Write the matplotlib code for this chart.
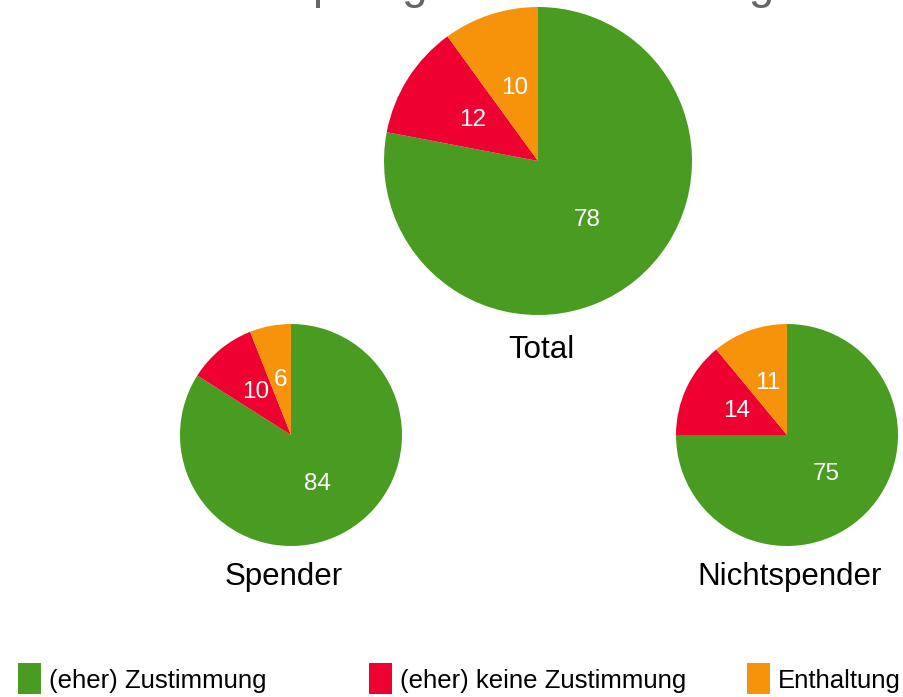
import matplotlib
matplotlib.use("Agg")
import matplotlib.pyplot as plt
from matplotlib.patches import Rectangle

plt.rcParams['font.family'] = ['Liberation Sans', 'DejaVu Sans']

# data
categories = ['(eher) Zustimmung', '(eher) keine Zustimmung', 'Enthaltung']
colors = ['#4a9b21', '#ee0030', '#f7930a']
groups = ['Total', 'Spender', 'Nichtspender']
values_total = [78, 12, 10]
values_spender = [84, 10, 6]
values_nichtspender = [75, 14, 11]
title = 'Impfung der Bevölkerung'

W, H = 904, 697
fig = plt.figure(figsize=(W / 100, H / 100), dpi=100)


def pie_at(vals, cx, cy, r, name, label_x, label_y):
    # pixel coords (top-left origin) -> figure fraction
    ax = fig.add_axes([(cx - r) / W, (H - cy - r) / H, 2 * r / W, 2 * r / H])
    ax.pie(vals, colors=colors, startangle=90, counterclock=False,
           labels=[str(v) for v in vals], labeldistance=0.5,
           textprops=dict(color='white', fontsize=17.5, ha='center', va='center'),
           wedgeprops=dict(linewidth=0))
    ax.set_xlim(-1, 1)
    ax.set_ylim(-1, 1)
    ax.set_aspect('equal')
    ax.axis('off')
    fig.text(label_x / W, 1 - label_y / H, name, ha='center', va='center',
             fontsize=22.5, color='black')


pie_at(values_total, 538, 161, 154, groups[0], 541, 350)
pie_at(values_spender, 291, 435, 111, groups[1], 284, 577)
pie_at(values_nichtspender, 787, 435, 111, groups[2], 790, 577)

# title, mostly cut off at the top like in the reference
fig.text(262 / W, 1 + 2 / H, title, ha='left', va='baseline',
         fontsize=33, color='#666666')

# legend drawn by hand (uneven spacing)
leg_x = [18, 369, 747]
for x, c, lab in zip(leg_x, colors, categories):
    fig.add_artist(Rectangle((x / W, 1 - 694 / H), 23 / W, 31 / H,
                             transform=fig.transFigure, color=c, lw=0))
    fig.text((x + 31) / W, 1 - 681 / H, lab, ha='left', va='center',
             fontsize=18.5, color='black')

fig.savefig('out.png', dpi=100)
